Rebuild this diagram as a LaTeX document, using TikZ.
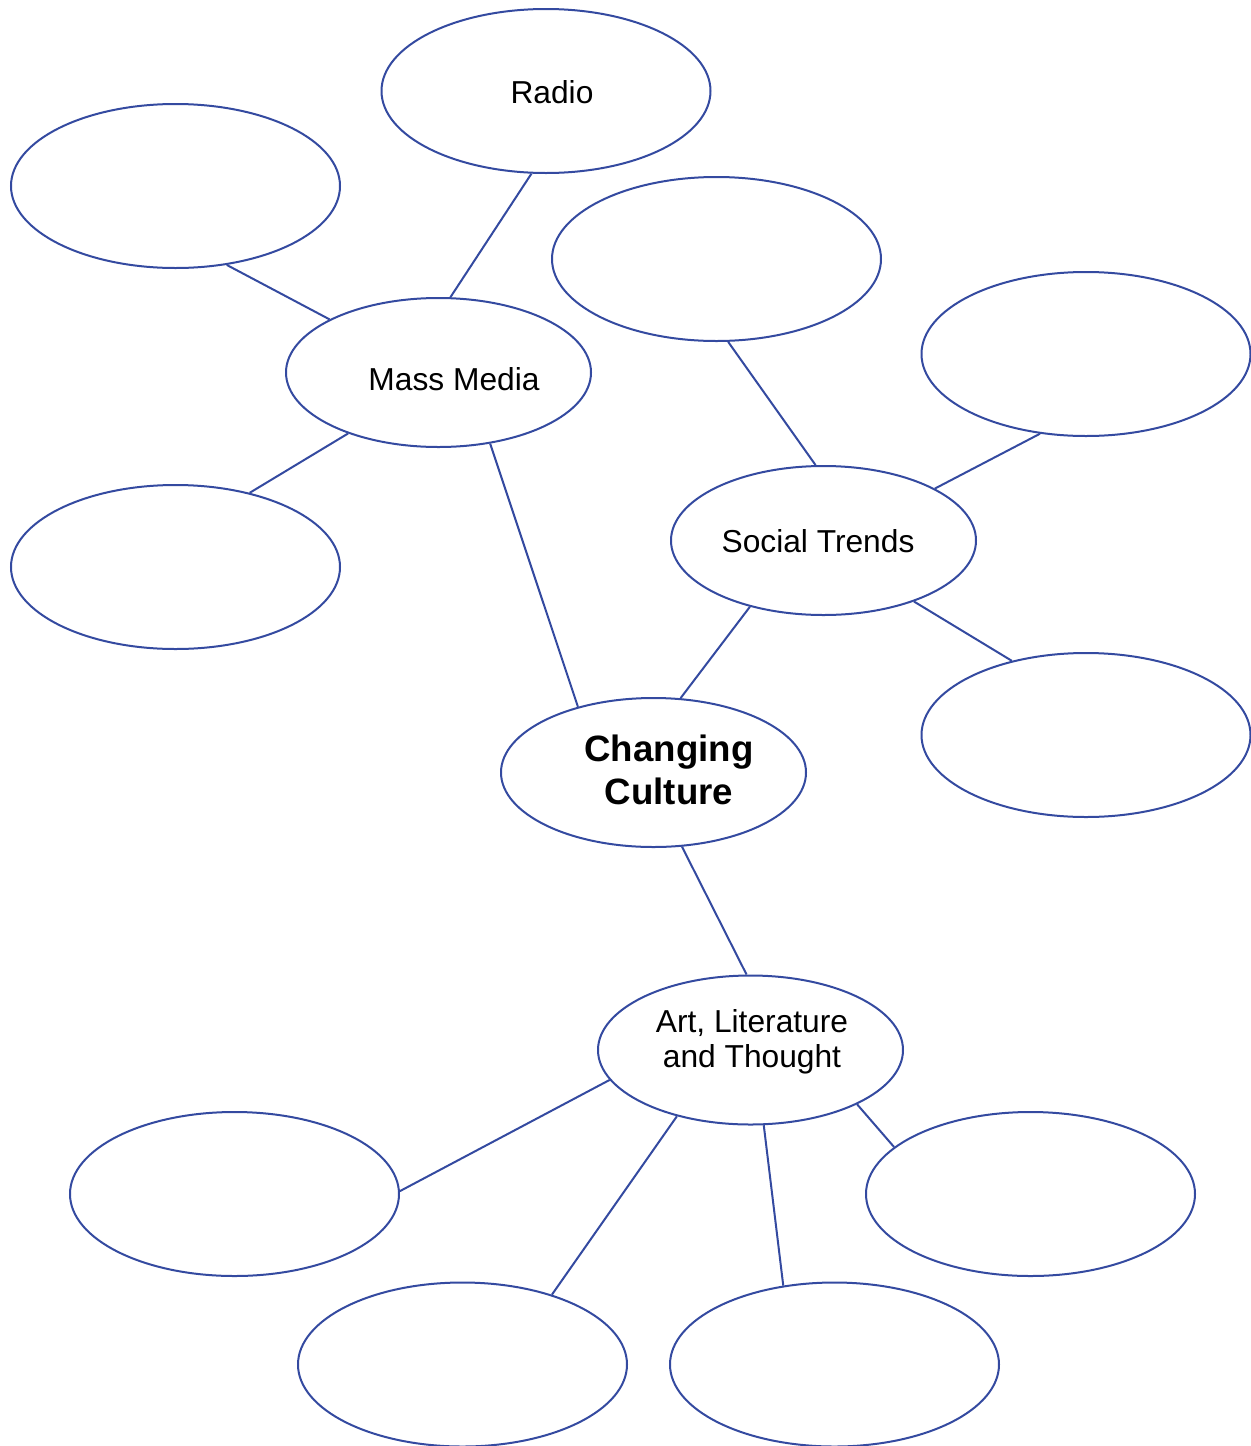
\documentclass[tikz,border=0pt]{standalone}
\usepackage{fontspec}
\setmainfont{Liberation Sans}
\usetikzlibrary{shapes.geometric}
\definecolor{bubbleblue}{RGB}{52,74,160}
\tikzset{
  bubble/.style={draw=bubbleblue,line width=1.5pt,ellipse,inner sep=0pt,minimum width=246.75pt,minimum height=123pt},
  hub/.style={bubble,minimum width=228.75pt,minimum height=111.75pt},
  link/.style={draw=bubbleblue,line width=1.5pt},
  word/.style={inner sep=0.75pt,align=center,font=\fontsize{23.8pt}{26pt}\selectfont}
}
\begin{document}
\begin{tikzpicture}[x=0.75pt,y=0.75pt,yscale=-1,xscale=1]
\useasboundingbox (0,0) rectangle (1251,1446);
% hubs
\node [hub] (mass) at (438.5,372.5) {};
\node [hub] (social) at (823.5,540.5) {};
\node [hub] (culture) at (653.5,772.5) {};
\node [hub] (art) at (750.5,1050) {};
% outer bubbles
\node [bubble] (radio) at (546,91) {};
\node [bubble] (topleft) at (175.5,186) {};
\node [bubble] (midleft) at (175.5,567) {};
\node [bubble] (topmid) at (716.5,259) {};
\node [bubble] (right1) at (1086,354) {};
\node [bubble] (right2) at (1086,735) {};
\node [bubble] (botleft) at (234.5,1194) {};
\node [bubble] (botright) at (1030.5,1194) {};
\node [bubble] (botmidl) at (462.5,1364.5) {};
\node [bubble] (botmidr) at (834.5,1364.5) {};
% texts
\node [word] (radio-txt) at (552,92) {Radio};
\node [word] (mass-txt) at (454,379) {Mass Media};
\node [word] (social-txt) at (818,541) {Social Trends};
\node [word,font=\bfseries\fontsize{27.5pt}{32pt}\selectfont] (culture-txt) at (669,770) {Changing\\Culture};
\node [word] (art-txt) at (752,1042) {Art, Literature\\and Thought};
% links
\draw [link] (radio.-100) -- (mass.81);
\draw [link] (topleft.-57) -- (mass.154);
\draw [link] (mass.-146) -- (midleft.45);
\draw [link] (mass.-54) -- (culture.139);
\draw [link] (topmid.-82) -- (social.96);
\draw [link] (right1.-120) -- (social.25);
\draw [link] (social.-34) -- (right2.135);
\draw [link] (social.-138) -- (culture.70);
\draw [link] (culture.-69) -- (art.93);
\draw [link] (art.-168) -- (botleft.1);
\draw [link] (art.-138) -- (botmidl.38);
\draw [link] (art.-80) -- (botmidr.123);
\draw [link] (art.-27) -- (botright.161);
\end{tikzpicture}
\end{document}
